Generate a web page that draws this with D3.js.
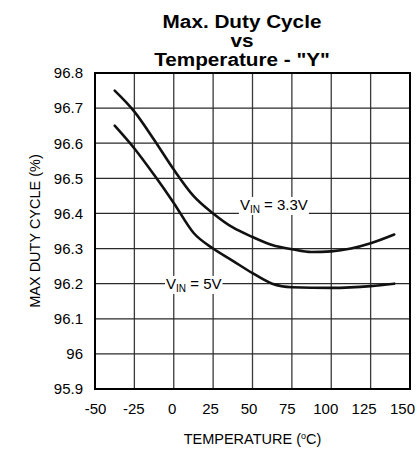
<!DOCTYPE html>
<html>
<head>
<meta charset="utf-8">
<script src="https://cdn.jsdelivr.net/npm/d3@7"></script>
<style>
  html, body { margin: 0; padding: 0; background: #fff; }
  svg { display: block; font-family: "Liberation Sans", Arial, sans-serif; }
</style>
</head>
<body>
<svg id="chart" width="420" height="452"></svg>
<script>
// ---- data ----
const titleLines = ["Max. Duty Cycle", "vs", "Temperature - \"Y\""];
const xTicks = [-50, -25, 0, 25, 50, 75, 100, 125, 150];
const yTicks = [95.9, 96, 96.1, 96.2, 96.3, 96.4, 96.5, 96.6, 96.7, 96.8];
const yTickLabels = ["95.9", "96", "96.1", "96.2", "96.3", "96.4", "96.5", "96.6", "96.7", "96.8"];
const temps33 = [-37.5, -25, -12.5, 0, 12.5, 25, 37.5, 50, 62.5, 75, 87.5, 100, 112.5, 125, 140];
const vin33   = [96.75, 96.69, 96.61, 96.525, 96.45, 96.40, 96.36, 96.333, 96.31, 96.298, 96.29, 96.292, 96.30, 96.315, 96.34];
const temps5  = [-37.5, -25, -12.5, 0, 12.5, 25, 37.5, 50, 62.5, 75, 100, 125, 140];
const vin5    = [96.65, 96.585, 96.51, 96.43, 96.345, 96.30, 96.265, 96.23, 96.20, 96.19, 96.188, 96.193, 96.20];
const xTitle = "TEMPERATURE (";
const yTitle = "MAX DUTY CYCLE (%)";

// ---- layout ----
const svg = d3.select("#chart");
const L = 95, R = 410, T = 73, B = 389;
const x = d3.scaleLinear().domain([-50, 150]).range([L, R]);
const y = d3.scaleLinear().domain([95.9, 96.8]).range([B, T]);
// tick labels in the reference sit on a slightly narrower span than the grid
const xLab = d3.scaleLinear().domain([-50, 150]).range([L, R - 8]);

// grid
const g = svg.append("g");
g.selectAll(".vg").data(xTicks).join("line")
  .attr("x1", d => x(d)).attr("x2", d => x(d))
  .attr("y1", T).attr("y2", B)
  .attr("stroke", "#3a3a3a").attr("stroke-width", 1.3);
g.selectAll(".hg").data(yTicks).join("line")
  .attr("x1", L).attr("x2", R)
  .attr("y1", d => y(d)).attr("y2", d => y(d))
  .attr("stroke", "#2a2a2a").attr("stroke-width", 1.3);

// border
svg.append("rect").attr("x", L).attr("y", T).attr("width", R - L).attr("height", B - T)
  .attr("fill", "none").attr("stroke", "#000").attr("stroke-width", 2);

// axes labels via d3 axes (no lines)
const yAxis = svg.append("g").attr("transform", `translate(${L},0)`)
  .call(d3.axisLeft(y).tickValues(yTicks).tickSize(0).tickPadding(12)
    .tickFormat((d, i) => yTickLabels[i]));
yAxis.select(".domain").remove();
yAxis.selectAll("text").attr("font-size", 15).attr("fill", "#000")
  .attr("font-family", "Liberation Sans, Arial, sans-serif");

const xAxis = svg.append("g").attr("transform", `translate(0,${B})`)
  .call(d3.axisBottom(xLab).tickValues(xTicks).tickSize(0).tickPadding(14)
    .tickFormat(d => String(d)));
xAxis.select(".domain").remove();
xAxis.selectAll("text").attr("font-size", 15).attr("fill", "#000")
  .attr("font-family", "Liberation Sans, Arial, sans-serif");

// curves
const line = d3.line().x(d => x(d[0])).y(d => y(d[1])).curve(d3.curveMonotoneX);
const s33 = temps33.map((t, i) => [t, vin33[i]]);
const s5 = temps5.map((t, i) => [t, vin5[i]]);
[s33, s5].forEach(s => {
  svg.append("path").attr("d", line(s)).attr("fill", "none")
    .attr("stroke", "#111").attr("stroke-width", 2.6).attr("stroke-linecap", "round");
});

// curve labels with white background
function vinLabel(tx, vy, rest) {
  const t = svg.append("text").attr("x", x(tx)).attr("y", y(vy))
    .attr("font-size", 15).attr("fill", "#000");
  t.append("tspan").text("V");
  t.append("tspan").attr("font-size", 10).attr("dy", 3).text("IN");
  t.append("tspan").attr("dy", -3).text(" = " + rest);
  const bb = t.node().getBBox();
  svg.insert("rect", function () { return t.node(); })
    .attr("x", bb.x - 1).attr("y", bb.y + 1).attr("width", bb.width + 2).attr("height", bb.height - 1)
    .attr("fill", "#fff");
}
vinLabel(42, 96.41, "3.3V");
vinLabel(-4.9, 96.185, "5V");

// title
const tg = svg.append("g").attr("transform", "translate(242,0) scale(1.12,1)");
const baselines = [28, 47, 66];
titleLines.forEach((s, i) => {
  tg.append("text").attr("x", 0).attr("y", baselines[i]).attr("text-anchor", "middle")
    .attr("font-size", 18.5).attr("font-weight", "bold").attr("fill", "#000").text(s);
});

// x title
const xt = svg.append("text").attr("x", (L + R) / 2).attr("y", 444).attr("text-anchor", "middle")
  .attr("font-size", 14.5).attr("fill", "#000");
xt.append("tspan").text(xTitle);
xt.append("tspan").attr("font-size", 9).attr("dy", -5).text("o");
xt.append("tspan").attr("dy", 5).text("C)");

// y title
svg.append("text").attr("transform", `translate(40,${(T + B) / 2}) rotate(-90)`)
  .attr("text-anchor", "middle").attr("font-size", 14.5).attr("fill", "#000").text(yTitle);
</script>
</body>
</html>
